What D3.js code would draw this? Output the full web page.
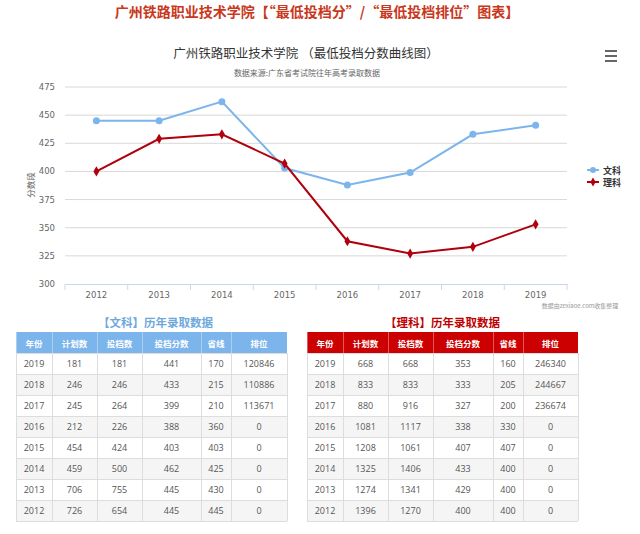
<!DOCTYPE html>
<html><head><meta charset="utf-8">
<script src="https://cdn.jsdelivr.net/npm/d3@7"></script>
<style>body{margin:0;background:#fff;font-family:"Noto Sans CJK SC","Noto Sans",sans-serif;}</style>
</head><body><svg id="c" width="640" height="534"></svg>
<script>
const years = ["2012","2013","2014","2015","2016","2017","2018","2019"];
const wenke = [445,445,462,403,388,399,433,441];
const like = [400,429,433,407,338,327,333,353];
const yTicks = [300,325,350,375,400,425,450,475];
const tableHeader = ["年份","计划数","投档数","投档分数","省线","排位"];
const wenkeRows = [
 ["2019",181,181,441,170,120846],["2018",246,246,433,215,110886],["2017",245,264,399,210,113671],
 ["2016",212,226,388,360,0],["2015",454,424,403,403,0],["2014",459,500,462,425,0],
 ["2013",706,755,445,430,0],["2012",726,654,445,445,0]];
const likeRows = [
 ["2019",668,668,353,160,246340],["2018",833,833,333,205,244667],["2017",880,916,327,200,236674],
 ["2016",1081,1117,338,330,0],["2015",1208,1061,407,407,0],["2014",1325,1406,433,400,0],
 ["2013",1274,1341,429,400,0],["2012",1396,1270,400,400,0]];

const svg = d3.select("#c");
const font = '"Noto Sans CJK SC",sans-serif';
svg.append("text").attr("x",317).attr("y",17).attr("text-anchor","middle")
 .attr("font-size",14).attr("font-weight","bold").attr("fill","#c9381c").attr("font-family",font)
 .text("广州铁路职业技术学院【“最低投档分”/“最低投档排位”图表】");
svg.append("text").attr("x",306).attr("y",58).attr("text-anchor","middle")
 .attr("font-size",12.5).attr("fill","#333").attr("font-family",font)
 .text("广州铁路职业技术学院 （最低投档分数曲线图）");
svg.append("text").attr("x",307).attr("y",76).attr("text-anchor","middle")
 .attr("font-size",8).attr("fill","#666").attr("font-family",font)
 .text("数据来源:广东省考试院往年高考录取数据");
// menu
[0,5,10].forEach(d=>svg.append("rect").attr("x",605).attr("y",50+d).attr("width",12).attr("height",2).attr("fill","#666"));

const L=65,R=567,T=87,B=284;
const x = d3.scaleBand().domain(years).range([L,R]);
const y = d3.scaleLinear().domain([300,475]).range([B,T]);
const g = svg.append("g");
g.selectAll("line.grid").data(yTicks.filter(d=>d>300)).join("line")
 .attr("x1",L).attr("x2",R).attr("y1",d=>y(d)).attr("y2",d=>y(d)).attr("stroke","#d8d8d8").attr("stroke-width",1);
g.selectAll("text.yl").data(yTicks).join("text").attr("x",55).attr("y",d=>y(d)+3)
 .attr("text-anchor","end").attr("font-size",8.5).attr("fill","#666").attr("font-family","DejaVu Sans, sans-serif").text(d=>d);
const xa = svg.append("g").attr("transform",`translate(0,${B})`).call(d3.axisBottom(x).tickSize(0).tickPadding(8));
xa.select(".domain").attr("stroke","#ccd6eb");
xa.selectAll("text").attr("font-size",8.5).attr("fill","#666").attr("font-family","DejaVu Sans, sans-serif");
const bounds = years.map(d=>x(d)).concat([R]);
svg.selectAll("line.xt").data(bounds).join("line").attr("x1",d=>d).attr("x2",d=>d)
 .attr("y1",B).attr("y2",B+6).attr("stroke","#ccd6eb");
svg.append("text").attr("transform","translate(34,185) rotate(-90)").attr("text-anchor","middle")
 .attr("font-size",8.5).attr("fill","#666").attr("font-family",font).text("分数段");

const line = d3.line().x((d,i)=>x(years[i])+x.bandwidth()/2).y(d=>y(d));
svg.append("path").datum(wenke).attr("d",line).attr("fill","none").attr("stroke","#7cb5ec").attr("stroke-width",2);
svg.selectAll("circle.w").data(wenke).join("circle").attr("cx",(d,i)=>x(years[i])+x.bandwidth()/2).attr("cy",d=>y(d)).attr("r",3.5).attr("fill","#7cb5ec");
svg.append("path").datum(like).attr("d",line).attr("fill","none").attr("stroke","#b0000d").attr("stroke-width",2);
const dia = d3.symbol().type(d3.symbolDiamond).size(30);
svg.selectAll("path.l").data(like).join("path").attr("d",dia)
 .attr("transform",(d,i)=>`translate(${x(years[i])+x.bandwidth()/2},${y(d)})`).attr("fill","#b0000d");

// legend
const lg=[["文科","#7cb5ec","c"],["理科","#b0000d","d"]];
lg.forEach((l,i)=>{
 const yy=170+i*12;
 svg.append("line").attr("x1",587).attr("x2",599).attr("y1",yy).attr("y2",yy).attr("stroke",l[1]).attr("stroke-width",2);
 if(l[2]==="c") svg.append("circle").attr("cx",593).attr("cy",yy).attr("r",3).attr("fill",l[1]);
 else svg.append("path").attr("d",d3.symbol().type(d3.symbolDiamond).size(24)).attr("transform",`translate(593,${yy})`).attr("fill",l[1]);
 svg.append("text").attr("x",603).attr("y",yy+3.5).attr("font-size",9).attr("font-weight","bold").attr("fill","#333").attr("font-family",font).text(l[0]);
});
svg.append("text").attr("x",580).attr("y",308).attr("text-anchor","middle").attr("font-size",6).attr("fill","#999").attr("font-family",font).text("数据由zexiaoe.com收集整理");

function table(x0, cols, title, color, rows, tcolor){
 const top=332, hh=21, rh=21;
 svg.append("text").attr("x",(x0+cols[cols.length-1])/2 + (x0===16?4:0)).attr("y",top-5).attr("text-anchor","middle")
  .attr("font-size",11.5).attr("font-weight","bold").attr("fill",tcolor).attr("font-family",font).text(title);
 const allX=[x0].concat(cols);
 const w = allX[allX.length-1]-x0;
 svg.append("rect").attr("x",x0).attr("y",top).attr("width",w).attr("height",hh).attr("fill",color);
 rows.forEach((r,i)=>{
  svg.append("rect").attr("x",x0).attr("y",top+hh+i*rh).attr("width",w).attr("height",rh)
   .attr("fill",i%2?"#f5f5f5":"#fff");
 });
 for(let i=0;i<=rows.length;i++){
  svg.append("line").attr("x1",x0).attr("x2",x0+w).attr("y1",top+hh+i*rh+0.5).attr("y2",top+hh+i*rh+0.5).attr("stroke","#ddd");
 }
 allX.forEach((cx,j)=>{
  svg.append("line").attr("x1",cx+0.5).attr("x2",cx+0.5).attr("y1",top+hh).attr("y2",top+hh+rows.length*rh).attr("stroke","#ddd");
  svg.append("line").attr("x1",cx+0.5).attr("x2",cx+0.5).attr("y1",top).attr("y2",top+hh).attr("stroke","rgba(255,255,255,0.35)");
 });
 tableHeader.forEach((h,j)=>{
  svg.append("text").attr("x",(allX[j]+allX[j+1])/2).attr("y",top+hh/2+4).attr("text-anchor","middle")
   .attr("font-size",8.5).attr("font-weight","bold").attr("fill","#fff").attr("font-family",font).text(h);
 });
 rows.forEach((r,i)=>r.forEach((v,j)=>{
  svg.append("text").attr("x",(allX[j]+allX[j+1])/2).attr("y",top+hh+i*rh+rh/2+3.5).attr("text-anchor","middle")
   .attr("font-size",9).attr("fill","#555").attr("font-family","Open Sans, sans-serif").text(v);
 }));
}
table(16,[52,97,142,201,231,287],"【文科】历年录取数据","#7cb5ec",wenkeRows,"#6fa8dc");
table(307,[343,388,433,493,523,578],"【理科】历年录取数据","#cc0000",likeRows,"#c00000");
</script></body></html>
